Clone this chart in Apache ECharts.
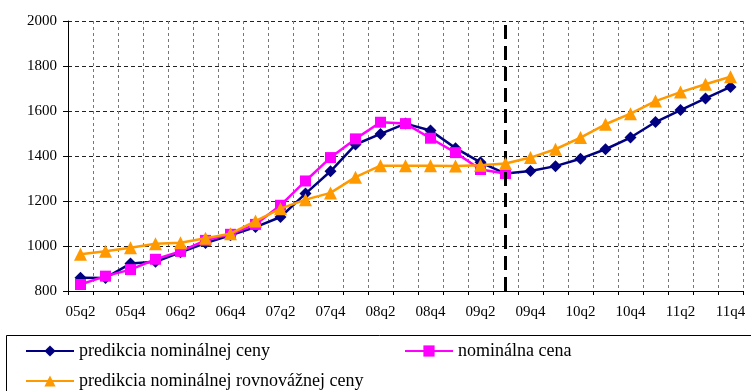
<!DOCTYPE html>
<html>
<head>
<meta charset="utf-8">
<script src="https://cdn.jsdelivr.net/npm/echarts@6/dist/echarts.min.js"></script>
<style>
html,body{margin:0;padding:0;background:#fff;}
#c{width:751px;height:391px;}
</style>
</head>
<body>
<div id="c"></div>
<script>
var categories = ['05q2','05q3','05q4','06q1','06q2','06q3','06q4','07q1','07q2','07q3','07q4','08q1','08q2','08q3','08q4','09q1','09q2','09q3','09q4','10q1','10q2','10q3','10q4','11q1','11q2','11q3','11q4'];
var predikciaCeny = [859,858,922,930,972,1013,1048,1084,1129,1233,1332,1451,1498,1544,1513,1435,1372,1322,1333,1355,1388,1430,1482,1551,1604,1656,1707];
var nominalnaCena = [829,866,895,941,976,1025,1052,1096,1181,1289,1393,1476,1550,1544,1479,1415,1340,1322,null,null,null,null,null,null,null,null,null];
var predikciaRovnovaznej = [963,977,992,1010,1014,1034,1055,1111,1166,1206,1236,1306,1357,1357,1357,1356,1359,1367,1393,1430,1482,1541,1588,1644,1684,1719,1752];
var forecastStart = '09q3';
var yTicks = {min: 800, max: 2000, step: 200};

var font = 'Liberation Serif, Times New Roman, serif';
var chart = echarts.init(document.getElementById('c'), null, {renderer: 'canvas'});
function legendAt(name, left, top) {
  return {
    data: [name], left: left, top: top, padding: 0,
    itemWidth: 48, itemHeight: 14, selectedMode: false,
    textStyle: {fontFamily: font, fontSize: 18, color: '#000'}
  };
}
chart.setOption({
  animation: false,
  backgroundColor: '#fff',
  grid: {left: 68, right: 8, top: 21, bottom: 100, containLabel: false},
  legend: [
    legendAt('predikcia nominálnej ceny', 25, 342),
    legendAt('nominálna cena', 404, 342),
    legendAt('predikcia nominálnej rovnovážnej ceny', 25, 372)
  ],
  graphic: [{
    type: 'rect', silent: true, z: -1,
    shape: {x: 6.5, y: 335.5, width: 800, height: 100},
    style: {fill: 'none', stroke: '#000', lineWidth: 1}
  }],
  xAxis: {
    type: 'category', data: categories, boundaryGap: true,
    axisLine: {lineStyle: {color: '#000', width: 1}},
    axisTick: {show: true, interval: 0, length: 4, lineStyle: {color: '#000'}},
    axisLabel: {interval: 1, margin: 14, color: '#000', fontFamily: font, fontSize: 15},
    splitLine: {show: true, interval: 0, lineStyle: {color: '#777', type: [3, 3], width: 1}}
  },
  yAxis: {
    type: 'value', min: yTicks.min, max: yTicks.max, interval: yTicks.step,
    axisLine: {show: true, lineStyle: {color: '#000', width: 1}},
    axisTick: {show: true, length: 5, lineStyle: {color: '#000'}},
    axisLabel: {margin: 11, color: '#000', fontFamily: font, fontSize: 15,
      formatter: function (v) { return String(v); }},
    splitLine: {show: true, lineStyle: {color: '#222', type: [4, 3], width: 1}}
  },
  series: [
    {
      name: 'predikcia nominálnej ceny', type: 'line', data: predikciaCeny,
      color: '#000080', symbol: 'diamond', symbolSize: 12, z: 3,
      lineStyle: {width: 2.5, color: '#000080'}, itemStyle: {color: '#000080'},
      markLine: {
        silent: true, symbol: ['none', 'none'], label: {show: false},
        lineStyle: {color: '#000', width: 3, type: [14, 7]},
        data: [{xAxis: forecastStart}]
      }
    },
    {
      name: 'nominálna cena', type: 'line', data: nominalnaCena,
      color: '#FF00FF', symbol: 'rect', symbolSize: 11, z: 4,
      lineStyle: {width: 2.5, color: '#FF00FF'}, itemStyle: {color: '#FF00FF'}
    },
    {
      name: 'predikcia nominálnej rovnovážnej ceny', type: 'line', data: predikciaRovnovaznej,
      color: '#FF9900', symbol: 'triangle', symbolSize: 13, z: 5,
      lineStyle: {width: 2.5, color: '#FF9900'}, itemStyle: {color: '#FF9900'}
    }
  ]
});
</script>
</body>
</html>
